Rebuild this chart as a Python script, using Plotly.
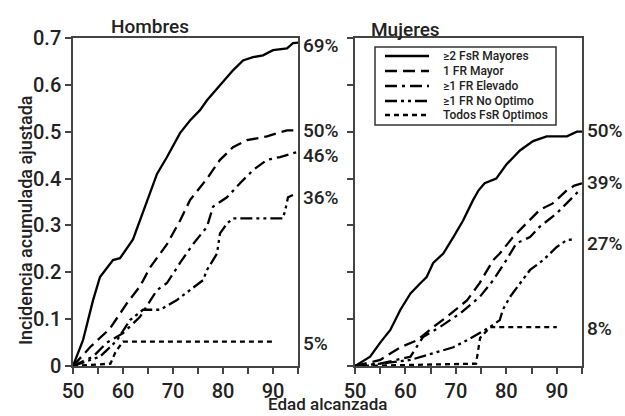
import plotly.graph_objects as go

FONT = "Roboto, Liberation Sans, sans-serif"
TXT = "#222"
WT = 500

series_names = ["≥2 FsR Mayores", "1 FR Mayor", "≥1 FR Elevado", "≥1 FR No Optimo", "Todos FsR Optimos"]

# Hombres
h_solid_x = [50, 52, 54, 55.4, 58, 59.4, 62, 63.4, 64.8, 66.8, 68.8, 71.4, 73.4, 75.4, 76.8, 79.4, 82, 84, 86, 88, 90, 92.8, 94, 95]
h_solid_y = [0, 0.055, 0.14, 0.19, 0.226, 0.23, 0.27, 0.31, 0.354, 0.41, 0.446, 0.497, 0.524, 0.546, 0.567, 0.60, 0.631, 0.652, 0.659, 0.663, 0.674, 0.678, 0.689, 0.69]
h_mayor_x = [50, 53.4, 57.4, 60.8, 63.4, 65.4, 68.8, 71.4, 73.4, 76.8, 79.4, 82, 84.8, 88.8, 92.8, 95]
h_mayor_y = [0, 0.04, 0.08, 0.134, 0.17, 0.21, 0.26, 0.31, 0.354, 0.40, 0.44, 0.467, 0.482, 0.49, 0.503, 0.503]
h_elev_x = [50, 54, 56.8, 60, 63.4, 66.8, 68.8, 71.4, 74, 76.8, 78, 80.8, 83.4, 86, 88.8, 91.4, 94, 95]
h_elev_y = [0, 0.02, 0.05, 0.07, 0.105, 0.162, 0.177, 0.22, 0.26, 0.297, 0.34, 0.36, 0.39, 0.418, 0.44, 0.446, 0.454, 0.457]
h_noopt_x = [50, 55.4, 57.4, 58.8, 61.4, 64, 67.4, 70.8, 73.4, 76, 76.8, 78.8, 79.4, 80.8, 82, 92, 92.6, 93, 94]
h_noopt_y = [0, 0.02, 0.04, 0.055, 0.098, 0.12, 0.12, 0.141, 0.162, 0.183, 0.205, 0.24, 0.283, 0.304, 0.315, 0.315, 0.34, 0.36, 0.365]
h_opt_x = [50, 57.5, 58.5, 60, 90]
h_opt_y = [0, 0.005, 0.03, 0.052, 0.052]

# Mujeres
m_solid_x = [50, 53, 55, 57, 59, 61, 63, 64.2, 65.5, 67.5, 69.5, 71.4, 73.4, 74.5, 75.7, 78, 80, 82.7, 85.3, 88, 92, 94, 95]
m_solid_y = [0, 0.02, 0.05, 0.077, 0.12, 0.155, 0.177, 0.19, 0.22, 0.24, 0.275, 0.31, 0.354, 0.375, 0.39, 0.40, 0.43, 0.46, 0.48, 0.49, 0.49, 0.50, 0.50]
m_mayor_x = [50, 55, 59, 62.3, 65.5, 68.2, 72.2, 74.7, 77.4, 78.7, 81.3, 84, 86.6, 89.2, 92, 93.5, 95]
m_mayor_y = [0, 0.013, 0.04, 0.055, 0.083, 0.105, 0.14, 0.177, 0.226, 0.24, 0.275, 0.305, 0.333, 0.347, 0.375, 0.385, 0.39]
m_elev_x = [50, 55, 61, 63.5, 66.8, 70.8, 74.7, 77.4, 80, 82, 84.7, 86.6, 90, 92.6, 94.5]
m_elev_y = [0, 0.005, 0.02, 0.062, 0.083, 0.112, 0.147, 0.183, 0.226, 0.262, 0.275, 0.297, 0.326, 0.354, 0.375]
m_noopt_x = [50, 55, 61, 65.5, 69.5, 72.2, 74.7, 76.7, 78.7, 79.3, 80.7, 82.7, 84.7, 87.3, 90, 92, 93]
m_noopt_y = [0, 0.005, 0.013, 0.027, 0.04, 0.055, 0.07, 0.083, 0.098, 0.12, 0.147, 0.177, 0.205, 0.226, 0.254, 0.269, 0.27]
m_opt_x = [50, 74, 74.8, 76.8, 90]
m_opt_y = [0, 0.005, 0.06, 0.083, 0.083]

h_end_labels = ["69%", "50%", "46%", "36%", "5%"]
h_end_vals = [0.685, 0.503, 0.45, 0.36, 0.049]
m_end_labels = ["50%", "39%", "27%", "8%"]
m_end_vals = [0.503, 0.392, 0.262, 0.081]

x_tick_vals = [50, 55, 60, 65, 70, 75, 80, 85, 90, 95]
x_tick_text = ["50", "", "60", "", "70", "", "80", "", "90", ""]
y_tick_vals = [0, 0.1, 0.2, 0.3, 0.4, 0.5, 0.6, 0.7]
y_tick_text = ["0", "0.1", "0.2", "0.3", "0.4", "0.5", "0.6", "0.7"]

dashes = ["solid", "12px,6px", "12px,5px,3px,5px", "12px,4px,3px,4px,3px,4px", "5px,4px"]

fig = go.Figure()
hombres = [(h_solid_x, h_solid_y), (h_mayor_x, h_mayor_y), (h_elev_x, h_elev_y), (h_noopt_x, h_noopt_y), (h_opt_x, h_opt_y)]
mujeres = [(m_solid_x, m_solid_y), (m_mayor_x, m_mayor_y), (m_elev_x, m_elev_y), (m_noopt_x, m_noopt_y), (m_opt_x, m_opt_y)]
for i, (xs, ys) in enumerate(hombres):
    fig.add_trace(go.Scatter(x=xs, y=ys, mode="lines", name=series_names[i], showlegend=False,
                             line=dict(color="black", width=2.3, dash=dashes[i]), xaxis="x", yaxis="y"))
for i, (xs, ys) in enumerate(mujeres):
    fig.add_trace(go.Scatter(x=xs, y=ys, mode="lines", name=series_names[i], showlegend=False,
                             line=dict(color="black", width=2.3, dash=dashes[i]), xaxis="x2", yaxis="y2"))

W, H = 625, 416
ybot = (H - 366) / H
ytop = (H - 38) / H
axcol = "#444"
tickfont = dict(family=FONT, size=20, color=TXT, weight=WT)

common_x = dict(range=[50, 95], tickvals=x_tick_vals, ticktext=x_tick_text, ticks="outside", ticklen=6,
                tickwidth=1.5, tickcolor=axcol, showline=True, linecolor=axcol, linewidth=1.5,
                mirror=True, showgrid=False, zeroline=False, tickfont=tickfont, automargin=False)
common_y = dict(range=[0, 0.7], tickvals=y_tick_vals, ticktext=y_tick_text, ticks="outside", ticklen=6,
                tickwidth=1.5, tickcolor=axcol, showline=True, linecolor=axcol, linewidth=1.5,
                mirror=True, showgrid=False, zeroline=False, tickfont=tickfont, automargin=False)

fig.update_layout(
    template="none",
    width=W, height=H, margin=dict(l=0, r=0, t=0, b=0, autoexpand=False),
    paper_bgcolor="white", plot_bgcolor="white",
    font=dict(family=FONT, color=TXT),
    xaxis=dict(domain=[73 / W, 298 / W], anchor="y", **common_x),
    yaxis=dict(domain=[ybot, ytop], anchor="x", **common_y),
    xaxis2=dict(domain=[355 / W, 582 / W], anchor="y2", **common_x),
    yaxis2=dict(domain=[ybot, ytop], anchor="x2", showticklabels=False, **common_y),
    showlegend=False,
)

annotations = [
    dict(text="Hombres", x=150 / W, y=(H - 27) / H, xref="paper", yref="paper", showarrow=False,
         xanchor="center", yanchor="middle", font=dict(family=FONT, size=19, color=TXT, weight=WT)),
    dict(text="Mujeres", x=405 / W, y=(H - 30) / H, xref="paper", yref="paper", showarrow=False,
         xanchor="center", yanchor="middle", font=dict(family=FONT, size=19, color=TXT, weight=WT)),
    dict(text="Incidencia acumulada ajustada", x=25 / W, y=(H - 220) / H, xref="paper", yref="paper",
         xanchor="center", yanchor="middle", showarrow=False, textangle=-90,
         font=dict(family=FONT, size=18, color=TXT, weight=WT)),
    dict(text="Edad alcanzada", x=327 / W, y=0, xref="paper", yref="paper", showarrow=False,
         xanchor="center", yanchor="bottom", font=dict(family=FONT, size=17, color=TXT, weight=WT)),
]
for t, v in zip(h_end_labels, h_end_vals):
    annotations.append(dict(text=t, x=1, y=v, xref="x domain", yref="y", xanchor="left", yanchor="middle",
                            xshift=3, showarrow=False, font=dict(family=FONT, size=19, color=TXT, weight=WT)))
for t, v in zip(m_end_labels, m_end_vals):
    annotations.append(dict(text=t, x=1, y=v, xref="x2 domain", yref="y2", xanchor="left", yanchor="middle",
                            xshift=3, showarrow=False, font=dict(family=FONT, size=19, color=TXT, weight=WT)))

# legend box (drawn manually to match compact row spacing)
shapes = [dict(type="rect", xref="paper", yref="paper", x0=375 / W, x1=556 / W,
               y0=(H - 125) / H, y1=(H - 47) / H, line=dict(color="#333", width=1.5), fillcolor="white",
               layer="above")]
row_y = [56, 71, 86, 101, 115]
for i, name in enumerate(series_names):
    yy = (H - row_y[i]) / H
    shapes.append(dict(type="line", xref="paper", yref="paper", x0=385 / W, x1=429 / W, y0=yy, y1=yy,
                       line=dict(color="black", width=2.3, dash=dashes[i]), layer="above"))
    annotations.append(dict(text=name, x=441 / W, y=yy, xref="paper", yref="paper", xanchor="left",
                            yanchor="middle", showarrow=False,
                            font=dict(family=FONT, size=12, color=TXT, weight=WT)))
fig.update_layout(annotations=annotations, shapes=shapes)

fig.write_html("out.html", config={"displayModeBar": False},
               post_script="document.body.style.margin='0';document.body.style.padding='0';")
